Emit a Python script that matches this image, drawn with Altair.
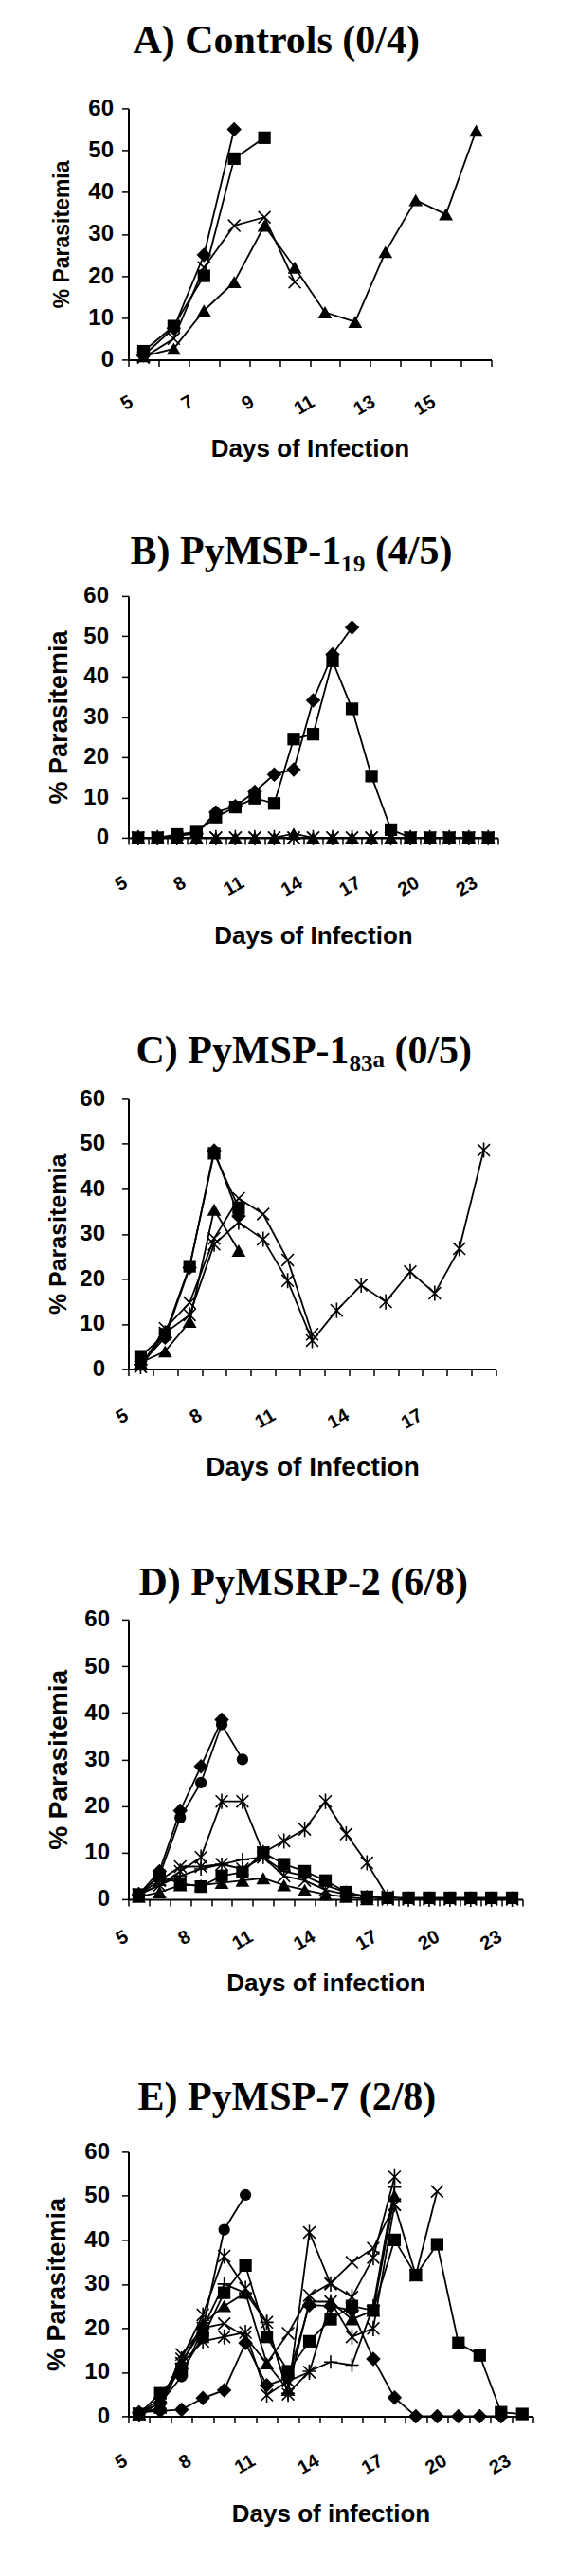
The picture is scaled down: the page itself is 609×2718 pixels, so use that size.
import altair as alt
import pandas as pd

# ---------------- data ----------------
# Every series starts at day 5; values are % parasitemia per day.
# Panel A: Controls (0/4), days 5..16
A_days = [5, 6, 7, 8, 9, 10, 11, 12, 13, 14, 15, 16]
A_diamond = [1, 7.5, 25, 55]
A_square = [2, 8, 20, 48, 53]
A_x = [0.5, 5, 22, 32, 34, 18.5]
A_triangle = [0.8, 2.6, 11.7, 18.5, 32, 22, 11.3, 9, 25.7, 38.1, 34.7, 54.7]
A_labels = [5, 7, 9, 11, 13, 15]

# Panel B: PyMSP-1(19) (4/5), days 5..23
B_days = list(range(5, 24))
B_diamond = [0, 0, 0.5, 1, 6.3, 7.8, 11.4, 15.7, 16.9, 34.1, 45.5, 52.2]
B_square = [0, 0, 0.8, 1.4, 5.1, 7.6, 9.8, 8.5, 24.5, 25.7, 43.9, 32, 15.3, 2, 0, 0, 0, 0, 0]
B_triangle = [0, 0, 0, 0, 0, 0, 0, 0, 1, 0, 0, 0, 0, 0, 0, 0, 0, 0, 0]
B_x = [0, 0, 0, 0, 0, 0, 0, 0, 0, 0, 0, 0, 0, 0, 0, 0, 0, 0, 0]
B_star = [0, 0, 0, 0, 0, 0, 0, 0, 0, 0, 0, 0, 0, 0, 0, 0, 0, 0, 0]
B_labels = [5, 8, 11, 14, 17, 20, 23]

# Panel C: PyMSP-1(83a) (0/5), days 5..19
C_days = list(range(5, 20))
C_square = [2.8, 7.7, 22.8, 47.9, 35.8]
C_diamond = [1, 7, 22.5, 48.5, 34]
C_triangle = [1.4, 3.9, 10.5, 35.4, 26.3]
C_x = [0.5, 9, 14.7, 29, 37.9, 34.4, 24.2, 7.7]
C_star = [0.5, 8, 12, 27.7, 32.6, 28.8, 19.6, 6.3, 13, 18.6, 14.9, 21.6, 16.8, 26.7, 48.6]
C_labels = [5, 8, 11, 14, 17]

# Panel D: PyMSRP-2 (6/8), days 5..23
D_days = list(range(5, 24))
D_circle = [1, 5, 17.5, 25, 37.5, 30]
D_diamond = [1, 6, 19, 28.5, 38.5]
D_star = [1, 3, 6, 9, 21, 21, 10, 12.5, 15, 21, 14, 7.8, 0.5, 0, 0, 0, 0, 0, 0]
D_x = [1, 4, 7, 7, 7.5, 6.5, 9, 5, 4, 2, 1, 0.5, 0]
D_square = [1, 5, 3.4, 2.7, 5, 5.8, 10, 7.5, 6, 4, 1.5, 0.5, 0.3, 0.3, 0.3, 0.3, 0.3, 0.3, 0.3]
D_triangle = [0.5, 1.5, 3, 3, 3.5, 4, 4.5, 3, 2, 1, 0.5, 0]
D_plus = [1, 3, 5, 6.5, 7.5, 8.5, 9, 6, 5, 3, 1.5, 0.5, 0]
D_labels = [5, 8, 11, 14, 17, 20, 23]

# Panel E: PyMSP-7 (2/8), days 5..23
E_days = list(range(5, 24))
E_circle = [0.5, 3, 9, 20, 42.3, 50.2]
E_diamond = [0.9, 1.2, 1.5, 4.1, 5.9, 16.6, 7, 8.7, 25.2, 25, 24, 13, 4.2, 0, 0, 0, 0, 0]
E_square = [0.5, 5.2, 10.2, 18, 28, 34.2, 18, 10.2, 17, 22, 25, 24, 40, 32, 39, 16.6, 13.8, 0.9, 0.5]
E_triangle = [0.5, 4, 12, 21, 25, 28, 12, 6, 26, 26, 22, 24, 50]
E_x = [0.5, 2, 14, 20, 21, 18, 12, 18.8, 27.4, 30.2, 34.9, 38.1, 48, 32, 51]
E_star = [0.5, 3, 13, 23, 36.3, 29, 21.3, 5, 41.7, 30, 27, 36, 54.3]
E_star2 = [0.5, 2, 12, 17, 18, 19, 4.8, 8, 10, 26, 18, 19.9, 48]
E_plus = [0.5, 3, 12, 20, 30, 28, 21.3, 5.2, 10.2, 12.3, 11.6, 25, 52]
E_labels = [5, 8, 11, 14, 17, 20, 23]

Y_TICKS = [0, 10, 20, 30, 40, 50, 60]

# ---------------- styling ----------------
MARKS = {
    "diamond": dict(shape="diamond", size=240, filled=True),
    "square": dict(shape="square", size=175, filled=True),
    "triangle": dict(shape="triangle-up", size=220, filled=True),
    "circle": dict(shape="circle", size=150, filled=True),
    "x": dict(shape="M-1,-1L1,1M-1,1L1,-1", size=165, filled=False),
    "star": dict(shape="M-1,-1L1,1M-1,1L1,-1M0,-1.25L0,1.25", size=165, filled=False),
    "plus": dict(shape="M-1.1,0L1.1,0M0,-1.1L0,1.1", size=165, filled=False),
}
SANS = "Liberation Sans"
SERIF = "Liberation Serif"
TITLE_SIZE = 42


def panel(days, series, labels, w, h, title, title_dx, title_offset,
          ylab_pad, ytitle_size, ytitle_x, xlab_pad, xlab_offset,
          xtitle, xtitle_size, xtitle_y):
    rows = []
    for sid, marker, vals in series:
        for i, v in enumerate(vals):
            if v is not None:
                rows.append({"series": sid, "marker": marker, "day": days[i], "value": v})
    df = pd.DataFrame(rows)

    ticks = [d - 0.5 for d in days] + [days[-1] + 0.5]
    label_expr = (f"indexof({labels}, datum.value + 0.5) >= 0 ? "
                  f"'' + (datum.value + 0.5) : ''")
    X = alt.X(
        "day:Q",
        scale=alt.Scale(domain=[days[0] - 0.5, days[-1] + 0.5], nice=False, zero=False),
        axis=alt.Axis(
            values=ticks, labelExpr=label_expr, labelAngle=-30, labelAlign="right",
            labelBaseline="top", labelPadding=xlab_pad, labelOffset=xlab_offset,
            labelFont=SANS, labelFontSize=20, labelFontWeight="bold", labelColor="black",
            labelOverlap=False, labelFlush=False,
            tickSize=7, tickWidth=1.5, tickColor="black",
            domainWidth=2, domainColor="black", grid=False,
            title=xtitle, titleFont=SANS, titleFontSize=xtitle_size, titleFontWeight="bold",
            titleColor="black", titleX=w / 2, titleY=xtitle_y, titleAlign="center",
            titleBaseline="alphabetic",
        ),
    )
    Y = alt.Y(
        "value:Q",
        scale=alt.Scale(domain=[0, 60], nice=False),
        axis=alt.Axis(
            values=Y_TICKS, labelFont=SANS, labelFontSize=24, labelFontWeight="bold",
            labelColor="black", labelPadding=ylab_pad,
            tickSize=7, tickWidth=1.5, tickColor="black",
            domainWidth=2, domainColor="black", grid=False,
            title="% Parasitemia", titleFont=SANS, titleFontSize=ytitle_size,
            titleFontWeight="bold", titleColor="black", titleAngle=-90,
            titleX=ytitle_x, titleY=h / 2, titleAlign="center", titleBaseline="middle",
        ),
    )

    lines = alt.Chart(df).mark_line(color="black", strokeWidth=1.8).encode(
        x=X, y=Y, detail="series:N", order="day:Q"
    )
    layers = [lines]
    for m in ["x", "star", "plus", "triangle", "square", "circle", "diamond"]:
        sub = df[df["marker"] == m]
        if len(sub) == 0:
            continue
        spec = MARKS[m]
        if spec["filled"]:
            pts = alt.Chart(sub).mark_point(
                shape=spec["shape"], size=spec["size"], filled=True,
                color="black", opacity=1)
        else:
            pts = alt.Chart(sub).mark_point(
                shape=spec["shape"], size=spec["size"], filled=False,
                color="black", opacity=1, strokeWidth=1.6)
        layers.append(pts.encode(x=X, y=Y))

    return alt.layer(*layers).properties(
        width=w, height=h,
        title=alt.TitleParams(
            text=title, font=SERIF, fontSize=TITLE_SIZE, fontWeight="bold", color="black",
            anchor="start", frame="group", dx=title_dx, offset=title_offset,
            baseline="alphabetic",
        ),
    )


pA = panel(A_days,
           [("a1", "diamond", A_diamond), ("a2", "square", A_square),
            ("a3", "x", A_x), ("a4", "triangle", A_triangle)],
           A_labels, 383, 265, "A) Controls (0/4)", 5, 4,
           9, 23, -70, 27, -2, "Days of Infection", 26, 102)

pB = panel(B_days,
           [("b3", "triangle", B_triangle), ("b4", "x", B_x), ("b5", "star", B_star),
            ("b1", "diamond", B_diamond), ("b2", "square", B_square)],
           B_labels, 390, 255, "B) PyMSP-1\u2081\u2089 (4/5)", 2, -20.5,
           14, 27, -73, 30, -8, "Days of Infection", 26, 112)

pC = panel(C_days,
           [("c1", "square", C_square), ("c2", "diamond", C_diamond),
            ("c3", "triangle", C_triangle), ("c4", "x", C_x), ("c5", "star", C_star)],
           C_labels, 388, 285, "C) PyMSP-1\u2088\u2083\u2090 (0/5)", 8, -16.5,
           18, 25, -74, 31.5, -7, "Days of Infection", 28, 112)

pD = panel(D_days,
           [("d1", "circle", D_circle), ("d2", "diamond", D_diamond),
            ("d3", "star", D_star), ("d4", "x", D_x), ("d5", "square", D_square),
            ("d6", "triangle", D_triangle), ("d7", "plus", D_plus)],
           D_labels, 416, 295, "D) PyMSRP-2 (6/8)", 11, -28,
           13, 28, -73.5, 22, -7, "Days of infection", 26, 97)

pE = panel(E_days,
           [("e1", "circle", E_circle), ("e2", "diamond", E_diamond),
            ("e3", "square", E_square), ("e4", "triangle", E_triangle),
            ("e5", "x", E_x), ("e6", "star", E_star), ("e7", "star", E_star2),
            ("e8", "plus", E_plus)],
           E_labels, 427, 279, "E) PyMSP-7 (2/8)", 10, -10,
           13, 27, -75.3, 29.5, -8, "Days of infection", 26, 111)

chart = alt.vconcat(
    pA,
    alt.vconcat(pB, pC, pD, pE, spacing=86.5),
    spacing=74.5,
).properties(
    padding={"top": 14.4, "left": 37.5, "right": 5, "bottom": 5},
    background="white",
).configure_view(stroke=None)

chart.save("out.html", embed_options={"renderer": "svg", "actions": False})
